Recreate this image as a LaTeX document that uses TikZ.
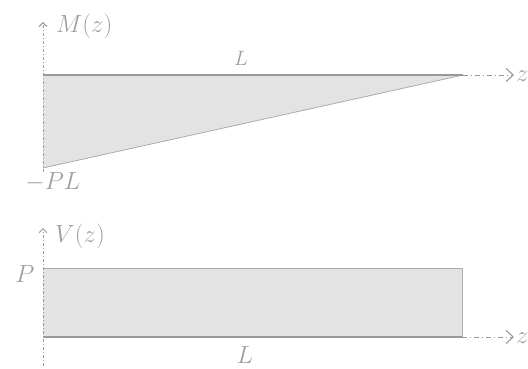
\documentclass[tikz,border=0pt]{standalone}
\usetikzlibrary{arrows.meta}
\begin{document}
\begin{tikzpicture}[x=1pt,y=-1pt,
  axis/.style={draw=gray!80, line width=0.9pt, dash pattern=on 5pt off 3pt on 1pt off 3pt, -{Straight Barb[length=7pt,width=13pt,line width=1.1pt]}},
  vaxis/.style={draw=gray!80, line width=0.9pt, dash pattern=on 3pt off 2pt on 1pt off 2pt, -{Straight Barb[length=4pt,width=8pt,line width=1pt]}},
  area/.style={fill=gray!22},
  edge/.style={draw=gray!65, line width=0.8pt},
  thick line/.style={draw=gray!80, line width=2.2pt},
  lbl/.style={text=gray!75, inner sep=0pt},
  big/.style={lbl, font=\fontsize{30}{34}\selectfont},
  mid/.style={lbl, font=\fontsize{25}{29}\selectfont},
  small/.style={lbl, font=\fontsize{22}{26}\selectfont}]
\useasboundingbox (0,0) rectangle (528,369);
% top diagram
\coordinate (o1) at (43,75);
\coordinate (e1) at (463,75);
\coordinate (b1) at (43,168);
\coordinate (t1) at (43,22);
\coordinate (x1) at (514,75);
\coordinate (s1) at (43,172);
\fill[area] (o1) -- (e1) -- (b1) -- cycle;
\draw[edge] (e1) -- (b1);
\draw[vaxis] (s1) -- (t1);
\draw[axis] (e1) -- (x1);
\draw[thick line] (o1) -- (e1);
\node[big, anchor=west] (m) at (56,26) {$M(z)$};
\node[small] (l1) at (241,58) {$L$};
\node[big, anchor=west] (z1) at (516,76) {$z$};
\node[mid] (pl) at (53,182) {$-PL$};
% bottom diagram
\coordinate (o2) at (43,337);
\coordinate (e2) at (462,337);
\coordinate (r2) at (462,268);
\coordinate (p2) at (43,268);
\coordinate (t2) at (43,228);
\coordinate (s2) at (43,366);
\coordinate (x2) at (514,337);
\fill[area] (p2) rectangle (e2);
\draw[edge] (p2) -- (r2) -- (e2);
\draw[vaxis] (s2) -- (t2);
\draw[axis] (e2) -- (x2);
\draw[thick line] (o2) -- (e2);
\node[big, anchor=west] (v) at (55,236) {$V(z)$};
\node[big] (p) at (25,274) {$P$};
\node[mid] (l2) at (245,355) {$L$};
\node[big, anchor=west] (z2) at (516,338) {$z$};
\end{tikzpicture}
\end{document}
